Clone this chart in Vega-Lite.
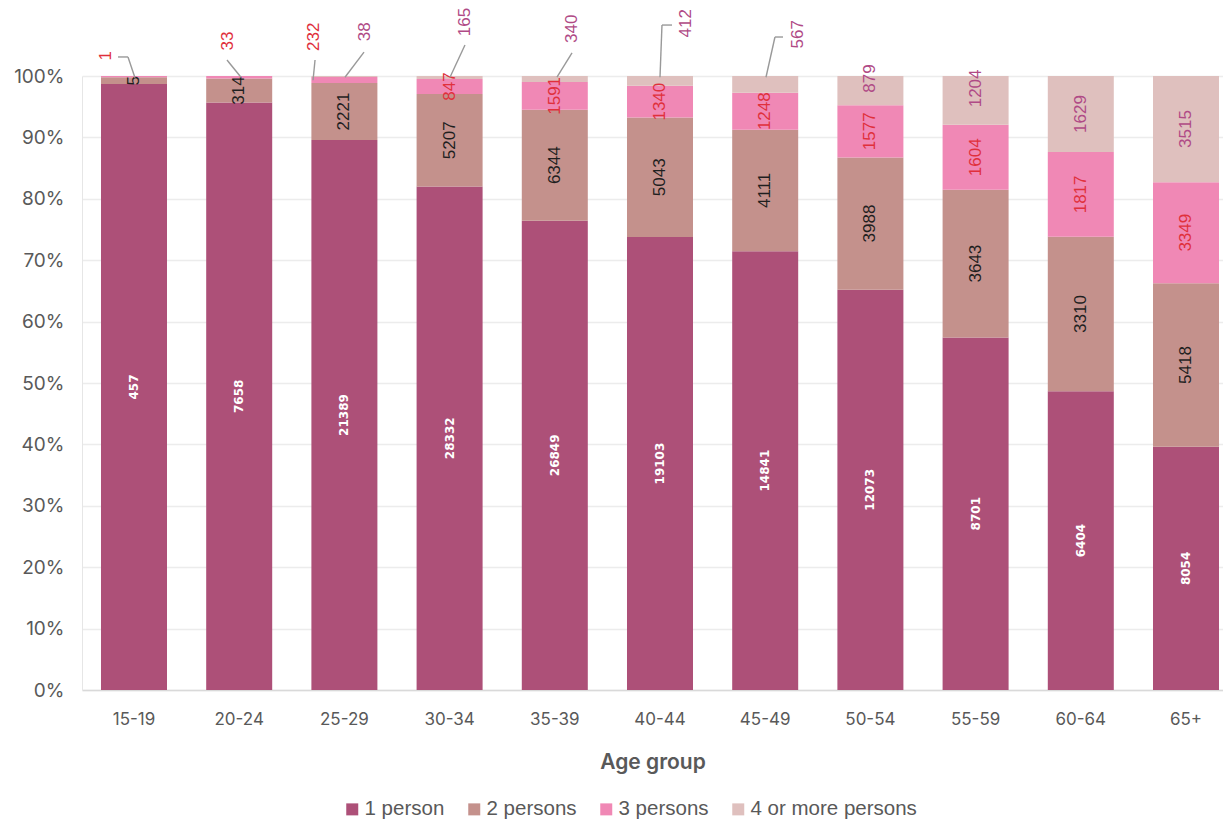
{
  "$schema": "https://vega.github.io/schema/vega-lite/v6.json",
  "width": 1141,
  "height": 614,
  "autosize": {"type": "none"},
  "padding": {"left": 82, "top": 76, "right": 0, "bottom": 132},
  "background": "white",
  "config": {"view": {"stroke": null}, "font": "Inter"},
  "data": {"values": [
    {"age": "15-19", "size": "1 person", "count": 457},
    {"age": "15-19", "size": "2 persons", "count": 5},
    {"age": "15-19", "size": "3 persons", "count": 1},
    {"age": "20-24", "size": "1 person", "count": 7658},
    {"age": "20-24", "size": "2 persons", "count": 314},
    {"age": "20-24", "size": "3 persons", "count": 33},
    {"age": "25-29", "size": "1 person", "count": 21389},
    {"age": "25-29", "size": "2 persons", "count": 2221},
    {"age": "25-29", "size": "3 persons", "count": 232},
    {"age": "25-29", "size": "4 or more persons", "count": 38},
    {"age": "30-34", "size": "1 person", "count": 28332},
    {"age": "30-34", "size": "2 persons", "count": 5207},
    {"age": "30-34", "size": "3 persons", "count": 847},
    {"age": "30-34", "size": "4 or more persons", "count": 165},
    {"age": "35-39", "size": "1 person", "count": 26849},
    {"age": "35-39", "size": "2 persons", "count": 6344},
    {"age": "35-39", "size": "3 persons", "count": 1591},
    {"age": "35-39", "size": "4 or more persons", "count": 340},
    {"age": "40-44", "size": "1 person", "count": 19103},
    {"age": "40-44", "size": "2 persons", "count": 5043},
    {"age": "40-44", "size": "3 persons", "count": 1340},
    {"age": "40-44", "size": "4 or more persons", "count": 412},
    {"age": "45-49", "size": "1 person", "count": 14841},
    {"age": "45-49", "size": "2 persons", "count": 4111},
    {"age": "45-49", "size": "3 persons", "count": 1248},
    {"age": "45-49", "size": "4 or more persons", "count": 567},
    {"age": "50-54", "size": "1 person", "count": 12073},
    {"age": "50-54", "size": "2 persons", "count": 3988},
    {"age": "50-54", "size": "3 persons", "count": 1577},
    {"age": "50-54", "size": "4 or more persons", "count": 879},
    {"age": "55-59", "size": "1 person", "count": 8701},
    {"age": "55-59", "size": "2 persons", "count": 3643},
    {"age": "55-59", "size": "3 persons", "count": 1604},
    {"age": "55-59", "size": "4 or more persons", "count": 1204},
    {"age": "60-64", "size": "1 person", "count": 6404},
    {"age": "60-64", "size": "2 persons", "count": 3310},
    {"age": "60-64", "size": "3 persons", "count": 1817},
    {"age": "60-64", "size": "4 or more persons", "count": 1629},
    {"age": "65+", "size": "1 person", "count": 8054},
    {"age": "65+", "size": "2 persons", "count": 5418},
    {"age": "65+", "size": "3 persons", "count": 3349},
    {"age": "65+", "size": "4 or more persons", "count": 3515}
  ]},
  "transform": [
    {"calculate": "indexof(['1 person','2 persons','3 persons','4 or more persons'], datum.size)", "as": "sizeOrder"}
  ],
  "layer": [
    {
      "mark": {"type": "bar"},
      "encoding": {
        "x": {
          "field": "age", "type": "nominal",
          "scale": {"domain": ["15-19","20-24","25-29","30-34","35-39","40-44","45-49","50-54","55-59","60-64","65+"], "paddingInner": 0.3726, "paddingOuter": 0.1093, "align": 0.826},
          "axis": {"labelAngle": 0, "labelFontSize": 17, "labelColor": "#595959", "labelPadding": 21, "ticks": false, "domainColor": "#d9d9d9", "domainWidth": 1.5, "title": "Age group", "titleFontSize": 21, "titleFontWeight": 600, "titleColor": "#595959", "titlePadding": 24, "grid": false}
        },
        "y": {
          "field": "count", "type": "quantitative", "stack": "normalize",
          "scale": {"domain": [0, 1]},
          "axis": {"format": ".0%", "values": [0,0.1,0.2,0.3,0.4,0.5,0.6,0.7,0.8,0.9,1], "labelFontSize": 19, "labelColor": "#595959", "labelPadding": 18, "ticks": false, "domainColor": "#e6e6e6", "gridColor": "#ececec", "gridWidth": 1.5, "title": null}
        },
        "color": {
          "field": "size", "type": "nominal",
          "scale": {"domain": ["1 person","2 persons","3 persons","4 or more persons"], "range": ["#AD5078","#C4918C","#F088B5","#DFC0BE"]},
          "legend": {"orient": "none", "legendX": 260, "legendY": 723, "direction": "horizontal", "title": null, "symbolType": "square", "symbolSize": 144, "symbolStrokeWidth": 0, "labelFont": "Liberation Sans", "labelFontSize": 20.5, "labelColor": "#595959", "labelLimit": 400, "columnPadding": 19, "labelOffset": 2}
        },
        "order": {"field": "sizeOrder", "type": "quantitative"}
      }
    },
    {
      "mark": {"type": "text", "angle": 270, "font": "DejaVu Sans", "fontWeight": "bold", "fontSize": 12, "color": "white"},
      "encoding": {
        "x": {"field": "age", "type": "nominal"},
        "y": {"field": "count", "type": "quantitative", "stack": "normalize", "bandPosition": 0.5},
        "order": {"field": "sizeOrder", "type": "quantitative"},
        "text": {"condition": {"test": "datum.size != '1 person'", "value": ""}, "field": "count", "type": "quantitative"}
      }
    },
    {
      "mark": {"type": "text", "angle": 270, "font": "Liberation Sans", "fontSize": 17},
      "encoding": {
        "x": {"field": "age", "type": "nominal"},
        "y": {"field": "count", "type": "quantitative", "stack": "normalize", "bandPosition": 0.5},
        "order": {"field": "sizeOrder", "type": "quantitative"},
        "text": {"condition": {"test": "datum.size == '1 person' || (datum.size == '3 persons' && indexof(['15-19','20-24','25-29'], datum.age) >= 0) || (datum.size == '4 or more persons' && indexof(['25-29','30-34','35-39','40-44','45-49','50-54','55-59'], datum.age) >= 0)", "value": ""}, "field": "count", "type": "quantitative"},
        "color": {"condition": [{"test": "datum.size == '2 persons'", "value": "#1f1f1f"}, {"test": "datum.size == '3 persons'", "value": "#E0303C"}], "value": "#B04A86"}
      }
    },
    {
      "mark": {"type": "text", "angle": 270, "font": "Liberation Sans", "fontSize": 17, "dx": 12, "color": "#B04A86"},
      "encoding": {
        "x": {"field": "age", "type": "nominal"},
        "y": {"field": "count", "type": "quantitative", "stack": "normalize", "bandPosition": 0.5},
        "order": {"field": "sizeOrder", "type": "quantitative"},
        "text": {"condition": {"test": "!(datum.size == '4 or more persons' && indexof(['50-54','55-59'], datum.age) >= 0)", "value": ""}, "field": "count", "type": "quantitative"}
      }
    },
    {
      "transform": [{"filter": "datum.age == '15-19' && datum.size == '3 persons'"}],
      "mark": {"type": "text", "angle": 270, "font": "Liberation Sans", "fontSize": 17, "color": "#E0303C"},
      "encoding": {"x": {"field": "age", "type": "nominal", "bandPosition": 0.076}, "y": {"datum": 1.033}, "text": {"field": "count", "type": "quantitative"}}
    },
    {
      "transform": [{"filter": "datum.age == '20-24' && datum.size == '3 persons'"}],
      "mark": {"type": "text", "angle": 270, "font": "Liberation Sans", "fontSize": 17, "color": "#E0303C"},
      "encoding": {"x": {"field": "age", "type": "nominal", "bandPosition": 0.33}, "y": {"datum": 1.057}, "text": {"field": "count", "type": "quantitative"}}
    },
    {
      "transform": [{"filter": "datum.age == '25-29' && datum.size == '3 persons'"}],
      "mark": {"type": "text", "angle": 270, "font": "Liberation Sans", "fontSize": 17, "color": "#E0303C"},
      "encoding": {"x": {"field": "age", "type": "nominal", "bandPosition": 0.04}, "y": {"datum": 1.064}, "text": {"field": "count", "type": "quantitative"}}
    },
    {
      "transform": [{"filter": "datum.age == '25-29' && datum.size == '4 or more persons'"}],
      "mark": {"type": "text", "angle": 270, "font": "Liberation Sans", "fontSize": 17, "color": "#B04A86"},
      "encoding": {"x": {"field": "age", "type": "nominal", "bandPosition": 0.812}, "y": {"datum": 1.072}, "text": {"field": "count", "type": "quantitative"}}
    },
    {
      "transform": [{"filter": "datum.age == '30-34' && datum.size == '4 or more persons'"}],
      "mark": {"type": "text", "angle": 270, "font": "Liberation Sans", "fontSize": 17, "color": "#B04A86"},
      "encoding": {"x": {"field": "age", "type": "nominal", "bandPosition": 0.733}, "y": {"datum": 1.088}, "text": {"field": "count", "type": "quantitative"}}
    },
    {
      "transform": [{"filter": "datum.age == '35-39' && datum.size == '4 or more persons'"}],
      "mark": {"type": "text", "angle": 270, "font": "Liberation Sans", "fontSize": 17, "color": "#B04A86"},
      "encoding": {"x": {"field": "age", "type": "nominal", "bandPosition": 0.761}, "y": {"datum": 1.077}, "text": {"field": "count", "type": "quantitative"}}
    },
    {
      "transform": [{"filter": "datum.age == '40-44' && datum.size == '4 or more persons'"}],
      "mark": {"type": "text", "angle": 270, "font": "Liberation Sans", "fontSize": 17, "color": "#B04A86"},
      "encoding": {"x": {"field": "age", "type": "nominal", "bandPosition": 0.894}, "y": {"datum": 1.086}, "text": {"field": "count", "type": "quantitative"}}
    },
    {
      "transform": [{"filter": "datum.age == '45-49' && datum.size == '4 or more persons'"}],
      "mark": {"type": "text", "angle": 270, "font": "Liberation Sans", "fontSize": 17, "color": "#B04A86"},
      "encoding": {"x": {"field": "age", "type": "nominal", "bandPosition": 0.997}, "y": {"datum": 1.068}, "text": {"field": "count", "type": "quantitative"}}
    },
    {
      "transform": [{"filter": "datum.age == '15-19' && datum.size == '1 person'"}],
      "mark": {"type": "rule", "color": "#999999", "strokeWidth": 1.4},
      "encoding": {"x": {"field": "age", "type": "nominal", "bandPosition": 0.258}, "x2": {"field": "age", "bandPosition": 0.409}, "y": {"datum": 1.031}, "y2": {"datum": 1.031}}
    },
    {
      "transform": [{"filter": "datum.age == '15-19' && datum.size == '1 person'"}],
      "mark": {"type": "rule", "color": "#999999", "strokeWidth": 1.4},
      "encoding": {"x": {"field": "age", "type": "nominal", "bandPosition": 0.409}, "x2": {"field": "age", "bandPosition": 0.515}, "y": {"datum": 1.031}, "y2": {"datum": 0.997}}
    },
    {
      "transform": [{"filter": "datum.age == '20-24' && datum.size == '1 person'"}],
      "mark": {"type": "rule", "color": "#999999", "strokeWidth": 1.4},
      "encoding": {"x": {"field": "age", "type": "nominal", "bandPosition": 0.315}, "x2": {"field": "age", "bandPosition": 0.527}, "y": {"datum": 1.026}, "y2": {"datum": 0.998}}
    },
    {
      "transform": [{"filter": "datum.age == '25-29' && datum.size == '1 person'"}],
      "mark": {"type": "rule", "color": "#999999", "strokeWidth": 1.4},
      "encoding": {"x": {"field": "age", "type": "nominal", "bandPosition": 0.055}, "x2": {"field": "age", "bandPosition": 0.025}, "y": {"datum": 1.026}, "y2": {"datum": 0.993}}
    },
    {
      "transform": [{"filter": "datum.age == '25-29' && datum.size == '1 person'"}],
      "mark": {"type": "rule", "color": "#999999", "strokeWidth": 1.4},
      "encoding": {"x": {"field": "age", "type": "nominal", "bandPosition": 0.797}, "x2": {"field": "age", "bandPosition": 0.509}, "y": {"datum": 1.039}, "y2": {"datum": 0.998}}
    },
    {
      "transform": [{"filter": "datum.age == '30-34' && datum.size == '1 person'"}],
      "mark": {"type": "rule", "color": "#999999", "strokeWidth": 1.4},
      "encoding": {"x": {"field": "age", "type": "nominal", "bandPosition": 0.733}, "x2": {"field": "age", "bandPosition": 0.506}, "y": {"datum": 1.0505}, "y2": {"datum": 0.998}}
    },
    {
      "transform": [{"filter": "datum.age == '35-39' && datum.size == '1 person'"}],
      "mark": {"type": "rule", "color": "#999999", "strokeWidth": 1.4},
      "encoding": {"x": {"field": "age", "type": "nominal", "bandPosition": 0.761}, "x2": {"field": "age", "bandPosition": 0.533}, "y": {"datum": 1.0375}, "y2": {"datum": 0.998}}
    },
    {
      "transform": [{"filter": "datum.age == '40-44' && datum.size == '1 person'"}],
      "mark": {"type": "rule", "color": "#999999", "strokeWidth": 1.4},
      "encoding": {"x": {"field": "age", "type": "nominal", "bandPosition": 0.682}, "x2": {"field": "age", "bandPosition": 0.53}, "y": {"datum": 1.083}, "y2": {"datum": 1.083}}
    },
    {
      "transform": [{"filter": "datum.age == '40-44' && datum.size == '1 person'"}],
      "mark": {"type": "rule", "color": "#999999", "strokeWidth": 1.4},
      "encoding": {"x": {"field": "age", "type": "nominal", "bandPosition": 0.53}, "x2": {"field": "age", "bandPosition": 0.5}, "y": {"datum": 1.083}, "y2": {"datum": 0.998}}
    },
    {
      "transform": [{"filter": "datum.age == '45-49' && datum.size == '1 person'"}],
      "mark": {"type": "rule", "color": "#999999", "strokeWidth": 1.4},
      "encoding": {"x": {"field": "age", "type": "nominal", "bandPosition": 0.77}, "x2": {"field": "age", "bandPosition": 0.648}, "y": {"datum": 1.0635}, "y2": {"datum": 1.0635}}
    },
    {
      "transform": [{"filter": "datum.age == '45-49' && datum.size == '1 person'"}],
      "mark": {"type": "rule", "color": "#999999", "strokeWidth": 1.4},
      "encoding": {"x": {"field": "age", "type": "nominal", "bandPosition": 0.648}, "x2": {"field": "age", "bandPosition": 0.512}, "y": {"datum": 1.0635}, "y2": {"datum": 0.998}}
    }
  ]
}
